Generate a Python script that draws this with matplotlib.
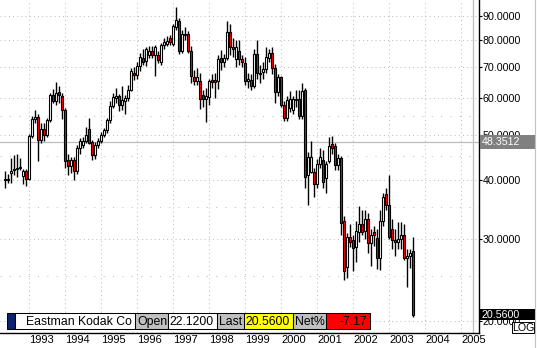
#!/usr/bin/env python3
"""Eastman Kodak monthly candlestick chart, log price scale."""

import matplotlib
matplotlib.use('Agg')
import matplotlib.pyplot as plt
from matplotlib.patches import Rectangle
from matplotlib.ticker import FixedLocator, NullLocator, FuncFormatter
import numpy as np

plt.rcParams['font.family'] = ['Liberation Sans', 'DejaVu Sans']

# Monthly bars, May 1992 .. Sep 2003
start_year, start_month = 1992, 5

opens = [
    40.2, 40.0, 41.5, 42.0, 42.3, 42.5, 40.8, 41.8,                          # 1992
    40.3, 49.8, 54.0, 54.7, 48.8, 51.6, 50.0, 53.8, 60.8, 59.2, 61.8, 60.6,  # 1993
    56.6, 44.3, 43.0, 44.3, 41.8, 47.0, 47.6, 48.5, 51.6, 48.3, 45.3, 47.6,  # 1994
    48.6, 50.0, 51.2, 53.8, 57.8, 60.0, 60.6, 58.0, 59.0, 60.0, 62.5, 68.0,  # 1995
    67.2, 70.3, 73.2, 72.0, 74.3, 75.8, 74.3, 74.3, 71.6, 77.9, 78.4, 80.8,  # 1996
    78.4, 85.2, 87.6, 75.8, 81.7, 82.4, 75.8, 66.7, 65.3, 65.3, 60.8, 59.8,  # 1997
    60.2, 65.7, 65.5, 65.3, 73.2, 71.6, 73.2, 83.0, 77.0, 72.6, 75.8, 72.6,  # 1998
    71.3, 65.3, 65.5, 63.7, 74.4, 67.6, 68.3, 69.1, 73.0, 74.8, 69.6, 61.8,  # 1999
    66.5, 58.0, 54.3, 57.0, 56.6, 59.4, 59.8, 54.9, 62.5, 41.1, 41.7, 41.7,  # 2000
    39.2, 43.4, 44.2, 40.5, 44.0, 47.9, 47.4, 43.1, 44.6, 32.8, 26.1, 30.3,  # 2001
    29.8, 28.8, 31.0, 32.3, 31.2, 33.0, 29.3, 31.0, 30.1, 27.3, 32.8, 37.4,  # 2002
    35.5, 31.5, 29.8, 29.5, 30.0, 30.5, 27.3, 27.6, 28.2,                    # 2003
]
highs = [
    41.8, 41.2, 44.7, 45.3, 45.5, 44.7, 42.2, 42.3,
    50.3, 54.8, 56.5, 55.5, 53.0, 53.0, 54.5, 61.5, 62.8, 64.8, 63.5, 61.5,
    57.0, 45.5, 44.8, 44.8, 47.5, 49.2, 49.5, 52.0, 54.3, 48.8, 48.2, 49.2,
    50.8, 51.8, 54.5, 59.0, 61.5, 62.9, 61.2, 63.7, 61.0, 64.0, 69.5, 70.0,
    71.5, 75.0, 76.5, 77.3, 77.5, 77.5, 78.0, 75.5, 78.5, 80.5, 81.5, 82.0,
    86.5, 94.0, 89.0, 84.0, 85.0, 83.5, 77.5, 69.0, 69.5, 68.0, 62.5, 63.0,
    66.0, 67.5, 68.0, 74.0, 76.0, 74.5, 87.6, 86.2, 80.5, 80.0, 80.0, 74.0,
    73.5, 68.0, 67.5, 76.5, 80.0, 70.5, 71.5, 77.0, 76.5, 77.0, 71.0, 67.5,
    67.0, 59.0, 60.5, 62.0, 60.5, 62.5, 62.4, 64.5, 63.0, 45.9, 48.5, 42.5,
    44.5, 47.0, 46.5, 44.0, 49.6, 49.8, 48.0, 45.5, 45.0, 33.5, 30.8, 32.3,
    30.5, 32.8, 35.3, 34.5, 34.5, 34.0, 31.5, 32.0, 31.5, 34.6, 37.5, 38.5,
    41.0, 33.0, 31.5, 32.5, 32.5, 32.3, 28.5, 28.5, 30.2,
]
lows = [
    38.5, 39.4, 39.5, 41.1, 40.6, 42.0, 39.3, 38.9,
    40.0, 49.3, 53.0, 44.0, 48.0, 48.5, 49.5, 53.2, 58.5, 58.0, 58.5, 54.0,
    42.5, 41.0, 41.5, 40.0, 41.2, 45.5, 46.8, 48.0, 47.8, 44.2, 44.5, 47.0,
    48.0, 49.5, 50.5, 53.0, 57.0, 58.5, 56.3, 56.5, 55.4, 59.0, 62.0, 65.5,
    66.0, 68.5, 70.5, 70.3, 73.0, 73.0, 66.9, 71.3, 70.5, 76.5, 77.5, 78.0,
    77.5, 84.0, 74.5, 75.0, 80.0, 75.0, 64.5, 64.0, 64.0, 56.8, 57.5, 53.4,
    58.0, 63.0, 60.0, 62.8, 69.0, 70.0, 72.5, 74.0, 73.5, 70.0, 70.5, 70.0,
    64.0, 63.0, 62.5, 63.0, 66.0, 64.5, 66.0, 68.0, 71.5, 67.5, 58.5, 60.5,
    57.5, 53.5, 53.5, 56.0, 55.5, 57.5, 54.0, 54.0, 38.5, 35.5, 41.5, 36.9,
    38.5, 42.5, 38.5, 37.6, 43.5, 45.5, 42.0, 42.0, 30.6, 24.5, 24.7, 28.8,
    25.6, 26.8, 29.5, 30.5, 30.0, 28.0, 26.2, 29.0, 25.8, 25.7, 32.0, 34.5,
    30.0, 28.5, 27.5, 28.5, 28.5, 27.0, 23.6, 26.0, 20.4,
]
closes = [
    40.0, 40.3, 41.8, 42.3, 42.5, 42.8, 41.8, 40.3,
    49.8, 54.0, 54.6, 48.8, 51.6, 50.0, 53.8, 60.8, 59.2, 61.5, 60.8, 56.6,
    44.0, 43.0, 44.3, 41.8, 47.0, 48.5, 48.5, 50.0, 48.1, 45.3, 47.7, 48.6,
    50.0, 51.2, 53.8, 57.8, 60.4, 60.6, 58.0, 59.4, 60.0, 62.5, 68.5, 67.2,
    70.3, 73.6, 71.6, 76.2, 75.8, 74.3, 77.0, 72.2, 77.9, 79.0, 79.6, 79.2,
    85.5, 88.0, 75.8, 82.4, 82.4, 75.8, 66.9, 65.3, 66.7, 59.6, 59.8, 60.6,
    65.3, 65.0, 64.9, 72.6, 71.6, 73.2, 83.2, 77.3, 76.5, 77.0, 72.6, 71.8,
    65.3, 65.8, 63.7, 74.4, 67.9, 67.9, 69.1, 73.6, 75.0, 69.6, 61.8, 66.5,
    58.0, 54.3, 59.4, 59.8, 59.6, 59.8, 54.9, 62.2, 40.6, 44.8, 44.8, 39.2,
    43.4, 44.8, 39.7, 43.4, 47.4, 46.8, 43.1, 44.6, 32.4, 25.6, 30.3, 29.5,
    28.6, 31.2, 32.3, 31.0, 33.0, 29.3, 30.6, 30.5, 27.3, 32.8, 36.9, 35.5,
    30.2, 29.8, 29.5, 30.0, 30.5, 27.3, 27.6, 27.9, 20.56,
]

years = list(range(1993, 2006))
price_labels = [20, 30, 40, 50, 60, 70, 80, 90]
price_minor = [25, 35, 45, 55]
crosshair_price = 48.3512
crosshair_time = 2005.333

name = "Eastman Kodak Co"
open_txt, last_txt, net_txt = "22.1200", "20.5600", "-7.17"

# ---------------------------------------------------------------
W, H = 537, 348
fig = plt.figure(figsize=(W / 100, H / 100), dpi=100)
fig.patch.set_facecolor('white')

ax_left, ax_right, ax_top, ax_bot = 0, 479.3, 0, 332.7
ax = fig.add_axes([ax_left / W, (H - ax_bot) / H,
                   (ax_right - ax_left) / W, (ax_bot - ax_top) / H])

o = np.array(opens)
hi = np.array(highs)
lo = np.array(lows)
c = np.array(closes)
n = len(c)
idx = np.arange(n) + (start_month - 1)
x = start_year + idx / 12.0

px_per_year = 36.0
ax.set_xlim(1993 - 29.3 / px_per_year, 1993 + (ax_right - 29.3) / px_per_year)
ax.set_yscale('log')
ax.set_ylim(18.88, 97.23)

# grid
grid_col = '#c0c0c0'
for yr in years:
    ax.axvline(yr, color=grid_col, lw=0.75, ls=(0, (1, 3)), zorder=0)
for p in price_labels:
    ax.axhline(p, color=grid_col, lw=0.75, ls=(0, (1, 3)), zorder=0)
for p in price_minor:
    ax.axhline(p, color=grid_col, lw=0.75, ls=(0, (1, 8)), zorder=0)

# crosshair
ax.axhline(crosshair_price, color='#bdbdbd', lw=0.9, zorder=1)
ax.axvline(crosshair_time, color='#bdbdbd', lw=0.9, zorder=1)

# candles
ax.vlines(x, lo, hi, color='black', lw=1.0, zorder=2)
body_lo = np.minimum(o, c)
body_h = np.maximum(np.abs(c - o), 0.05)
cols = np.where(c < o, '#ff0000', '#ffffff')
ax.bar(x, body_h, width=1.9 / px_per_year, bottom=body_lo, color=cols,
       edgecolor='black', linewidth=0.8, zorder=3)

# axes styling
for s in ['left', 'top']:
    ax.spines[s].set_visible(False)
ax.spines['right'].set_linewidth(1.0)
ax.spines['bottom'].set_linewidth(1.0)

ax.yaxis.tick_right()
ax.yaxis.set_major_locator(FixedLocator(price_labels))
ax.yaxis.set_minor_locator(NullLocator())
ax.yaxis.set_major_formatter(FuncFormatter(lambda v, _: f"{v:.4f}"))
ax.tick_params(axis='y', which='major', length=2, width=0.8, pad=0.6,
               labelsize=7.7, colors='black')
ax.tick_params(axis='y', which='minor', length=0)

ax.set_xticks(years)
ax.set_xticklabels([str(y) for y in years])
ax.xaxis.set_minor_locator(NullLocator())
ax.tick_params(axis='x', length=0, pad=2.0, labelsize=8.0)
for lab in ax.get_xticklabels():
    lab.set_horizontalalignment('left')

# overlay in pixel coordinates
ov = fig.add_axes([0, 0, 1, 1], zorder=5)
ov.set_xlim(0, W)
ov.set_ylim(H, 0)
ov.axis('off')
ov.patch.set_alpha(0)

# right-hand value boxes
ov.add_patch(Rectangle((480.3, 135), 54.2, 14, facecolor='#808080', edgecolor='none'))
ov.text(482, 142.3, f"{crosshair_price:.4f}", color='white', fontsize=7.7,
        va='center', ha='left')
ov.add_patch(Rectangle((480.3, 309.3), 54.2, 11, facecolor='black', edgecolor='none'))
ov.text(482, 315, last_txt, color='white', fontsize=7.7, va='center', ha='left')
ov.add_patch(Rectangle((511.7, 321.7), 22.3, 11.5, facecolor='white',
                       edgecolor='black', linewidth=0.7))
ov.text(523, 327.8, "LOG", color='black', fontsize=7.7, va='center', ha='center')
ov.plot([534.5, 534.5], [0, H], color='#c0c0c0', lw=0.8)

# info strip
y0, y1 = 313.3, 329.3
cells = [
    (7.3, 15.0, '#0c2470', None, None),
    (15.0, 135.0, 'white', name, 25.5),
    (135.0, 167.7, '#c0c0c0', "Open", 137.0),
    (167.7, 216.7, 'white', open_txt, 169.5),
    (216.7, 244.0, '#c0c0c0', "Last", 218.5),
    (244.0, 292.7, '#ffff00', last_txt, 245.5),
    (292.7, 325.7, '#c0c0c0', "Net%", 294.5),
    (325.7, 370.0, '#ff0000', net_txt, None),
]
for xa, xb, fc, txt, tx in cells:
    ov.add_patch(Rectangle((xa, y0), xb - xa, y1 - y0, facecolor=fc,
                           edgecolor='black', linewidth=0.75))
    if txt is None:
        continue
    if tx is None:
        ov.text(367, (y0 + y1) / 2 + 0.5, txt, fontsize=8.8, va='center', ha='right')
    else:
        ov.text(tx, (y0 + y1) / 2 + 0.5, txt, fontsize=8.8, va='center', ha='left')

plt.savefig('out.png', dpi=100)
